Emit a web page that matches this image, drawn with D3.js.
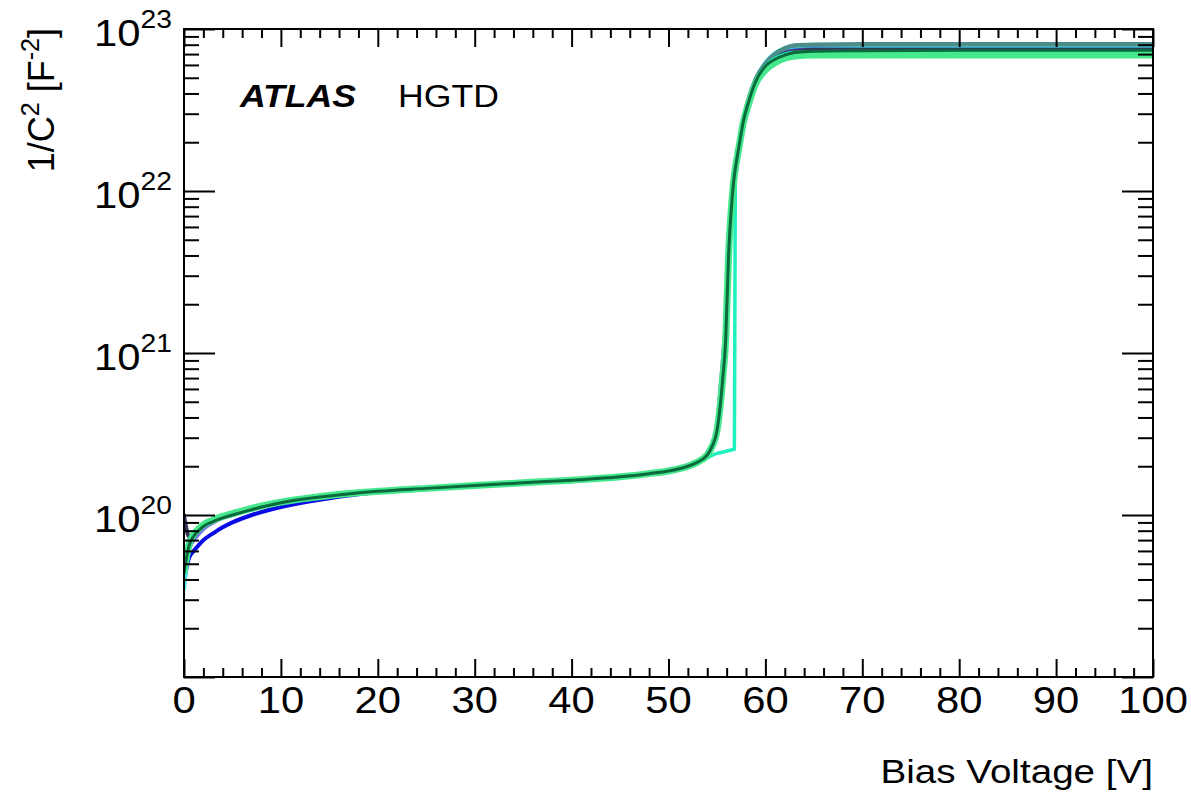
<!DOCTYPE html>
<html><head><meta charset="utf-8">
<script src="https://cdn.jsdelivr.net/npm/d3@7/dist/d3.min.js"></script>
<style>
body{margin:0;background:#fff;}
text{font-family:"Liberation Sans",Arial,Helvetica,sans-serif;fill:#000;}
</style>
</head><body>
<svg id="c" width="1191" height="795"></svg>
<script>
// ---- data (1/C^2 values in units of 1e20 F^-2) ----
const UNIT = 1e20;
const voltages = [0, 0.2, 0.5, 1, 1.5, 2, 3, 4, 5, 7,
  10, 15, 20, 25, 30, 35, 40, 45, 48, 50,
  52, 53, 54, 54.5, 55, 55.3, 55.6, 55.9, 56.2, 56.5,
  56.8, 56.9, 57.3, 57.7, 58.3, 59, 60, 61, 62, 63,
  65, 70, 80, 90, 100];
const blueVals = [0.38, 0.45, 0.54, 0.60, 0.65, 0.70, 0.77, 0.84, 0.90, 1.00,
  1.12, 1.27, 1.38, 1.45, 1.51, 1.57, 1.63, 1.71, 1.79, 1.86,
  1.98, 2.10, 2.35, 2.65, 3.30, 4.6, 7.5, 13, 40, 85,
  125, 140, 195, 265, 360, 480, 600, 680, 725, 745,
  755, 760, 760, 760, 760];
const periwinkleVals = [0.50, 0.55, 0.62, 0.70, 0.76, 0.82, 0.90, 0.96, 1.00, 1.08,
  1.19, 1.31, 1.40, 1.46, 1.52, 1.58, 1.64, 1.72, 1.80, 1.87,
  2.00, 2.14, 2.40, 2.75, 3.50, 5.5, 9, 16, 45, 90,
  135, 150, 200, 270, 365, 480, 600, 675, 715, 735,
  745, 750, 750, 750, 750];
const navyVals = [1.00, 0.85, 0.74, 0.74, 0.80, 0.86, 0.92, 0.97, 1.01, 1.09,
  1.19, 1.31, 1.40, 1.46, 1.52, 1.58, 1.64, 1.72, 1.80, 1.87,
  2.00, 2.12, 2.35, 2.65, 3.30, 4.5, 7.2, 12.5, 40, 80,
  125, 138, 190, 260, 355, 470, 590, 665, 710, 730,
  745, 750, 750, 750, 750];
const cyanVals = [0.35, 0.45, 0.60, 0.74, 0.81, 0.86, 0.92, 0.97, 1.01, 1.09,
  1.19, 1.31, 1.40, 1.46, 1.52, 1.58, 1.64, 1.72, 1.80, 1.87,
  2.00, 2.12, 2.35, 2.65, 3.30, 4.5, 7.0, 12, 40, 80,
  125, 138, 195, 270, 370, 490, 620, 710, 760, 780,
  790, 790, 790, 790, 790];
const tealVals = [0.45, 0.53, 0.65, 0.76, 0.82, 0.87, 0.93, 0.98, 1.02, 1.10,
  1.20, 1.32, 1.40, 1.46, 1.52, 1.58, 1.64, 1.72, 1.80, 1.87,
  2.00, 2.12, 2.35, 2.65, 3.30, 4.5, 7.0, 12, 40, 80,
  125, 138, 195, 270, 375, 490, 610, 700, 760, 790,
  800, 805, 805, 805, 805];
const aquaVals = [0.45, 0.53, 0.65, 0.76, 0.82, 0.87, 0.93, 0.98, 1.02, 1.10,
  1.20, 1.32, 1.40, 1.46, 1.52, 1.58, 1.64, 1.72, 1.80, 1.87,
  2.00, 2.10, 2.25, 2.33, 2.40, 2.42, 2.45, 2.47, 2.50, 2.52,
  2.55, 138, 190, 265, 360, 475, 590, 660, 700, 715,
  720, 720, 720, 720, 720];
const greenVals = [0.45, 0.53, 0.65, 0.76, 0.82, 0.87, 0.93, 0.98, 1.02, 1.10,
  1.20, 1.32, 1.40, 1.46, 1.52, 1.58, 1.64, 1.72, 1.80, 1.87,
  2.00, 2.12, 2.35, 2.65, 3.30, 4.5, 7.0, 12, 40, 80,
  125, 138, 190, 260, 350, 460, 560, 620, 660, 680,
  690, 690, 690, 690, 690];
const darkGreenVals = [0.44, 0.52, 0.64, 0.74, 0.80, 0.85, 0.91, 0.96, 1.00, 1.08,
  1.19, 1.31, 1.40, 1.46, 1.52, 1.58, 1.64, 1.72, 1.80, 1.87,
  2.00, 2.12, 2.35, 2.65, 3.30, 4.5, 7.0, 12, 40, 80,
  125, 138, 192, 265, 360, 475, 590, 650, 690, 715,
  730, 735, 740, 740, 740];
const xTicks = [0, 10, 20, 30, 40, 50, 60, 70, 80, 90, 100];
const yTickExponents = [19, 20, 21, 22, 23];
const yLabelExponents = [20, 21, 22, 23];

// ---- styles ----
const seriesStyles = [
  {vals: blueVals, color: "#0a0ae6", w: 4},
  {vals: periwinkleVals, color: "#7a78f0", w: 4},
  {vals: navyVals, color: "#35355e", w: 4},
  {vals: cyanVals, color: "#3ee6e8", w: 4},
  {vals: tealVals, color: "#4c8d8c", w: 4.5},
  {vals: aquaVals, color: "#1ef0c0", w: 3.5},
  {vals: greenVals, color: "#45e88c", w: 7},
  {vals: darkGreenVals, color: "#0a6a3c", w: 3}
];

const L = 184, R = 1153, T = 29, B = 677;
const SX = 1.13; // horizontal stretch of text
const svg = d3.select("#c");

const x = d3.scaleLinear().domain([0, 100]).range([L, R]);
const y = d3.scaleLog().domain([1e19, 1e23]).range([B, T]);

svg.append("defs").append("clipPath").attr("id", "clip")
  .append("rect").attr("x", L).attr("y", T).attr("width", R - L).attr("height", B - T);

const line = d3.line()
  .x(d => x(d[0])).y(d => y(d[1] * UNIT))
  .curve(d3.curveMonotoneX);
const g = svg.append("g").attr("clip-path", "url(#clip)");
seriesStyles.forEach(s => {
  const pts = voltages.map((v, i) => [v, s.vals[i]]);
  g.append("path").attr("d", line(pts)).attr("fill", "none")
    .attr("stroke", s.color).attr("stroke-width", s.w)
    .attr("stroke-linejoin", "round").attr("stroke-linecap", "round");
});

const xMinor = d3.range(0, 101, 2).filter(v => v % 10 !== 0);
const yMajor = yTickExponents.map(e => Math.pow(10, e));
const yMinor = [];
for (let e = 19; e < 23; e++) for (let k = 2; k <= 9; k++) yMinor.push(k * Math.pow(10, e));

function styleAxis(sel) {
  sel.select(".domain").remove();
  sel.selectAll(".tick line").attr("stroke", "#000").attr("stroke-width", 2);
  sel.selectAll(".tick text").remove();
}
svg.append("g").attr("transform", `translate(0,${B})`)
  .call(d3.axisBottom(x).tickValues(xTicks).tickSize(-18).tickFormat("")).call(styleAxis);
svg.append("g").attr("transform", `translate(0,${B})`)
  .call(d3.axisBottom(x).tickValues(xMinor).tickSize(-9).tickFormat("")).call(styleAxis);
svg.append("g").attr("transform", `translate(0,${T})`)
  .call(d3.axisTop(x).tickValues(xTicks).tickSize(-18).tickFormat("")).call(styleAxis);
svg.append("g").attr("transform", `translate(0,${T})`)
  .call(d3.axisTop(x).tickValues(xMinor).tickSize(-9).tickFormat("")).call(styleAxis);
svg.append("g").attr("transform", `translate(${L},0)`)
  .call(d3.axisLeft(y).tickValues(yMajor).tickSize(-31).tickFormat("")).call(styleAxis);
svg.append("g").attr("transform", `translate(${L},0)`)
  .call(d3.axisLeft(y).tickValues(yMinor).tickSize(-15).tickFormat("")).call(styleAxis);
svg.append("g").attr("transform", `translate(${R},0)`)
  .call(d3.axisRight(y).tickValues(yMajor).tickSize(-31).tickFormat("")).call(styleAxis);
svg.append("g").attr("transform", `translate(${R},0)`)
  .call(d3.axisRight(y).tickValues(yMinor).tickSize(-15).tickFormat("")).call(styleAxis);

svg.append("rect").attr("x", L).attr("y", T).attr("width", R - L).attr("height", B - T)
  .attr("fill", "none").attr("stroke", "#000").attr("stroke-width", 2);

// x tick labels
xTicks.forEach(v => {
  svg.append("text").attr("transform", `translate(${x(v)},713) scale(${SX},1)`)
    .attr("text-anchor", "middle").attr("font-size", 37).text(v);
});
// y tick labels
yLabelExponents.forEach(e => {
  const t = svg.append("text")
    .attr("transform", `translate(172,${y(Math.pow(10, e)) + 17}) scale(${SX},1)`)
    .attr("text-anchor", "end").attr("font-size", 37);
  t.append("tspan").text("10");
  t.append("tspan").attr("dy", -18).attr("font-size", 25).text(e);
});

// axis titles
svg.append("text").attr("transform", `translate(1153,783) scale(1.17,1)`)
  .attr("text-anchor", "end").attr("font-size", 33).text("Bias Voltage [V]");
const yt = svg.append("text")
  .attr("transform", `translate(54,28) scale(1.05,1) rotate(-90)`)
  .attr("text-anchor", "end").attr("font-size", 36);
yt.append("tspan").text("1/C");
yt.append("tspan").attr("dy", -14).attr("font-size", 25).text("2");
yt.append("tspan").attr("dy", 14).text(" [F");
yt.append("tspan").attr("dy", -14).attr("font-size", 25).text("-2");
yt.append("tspan").attr("dy", 14).text("]");

// ATLAS label
svg.append("text").attr("transform", `translate(240,107) scale(1.15,1)`)
  .attr("font-size", 31).attr("font-weight", "bold").attr("font-style", "italic").text("ATLAS");
svg.append("text").attr("transform", `translate(398,107) scale(1.15,1)`)
  .attr("font-size", 31).text("HGTD");
</script>
</body></html>
